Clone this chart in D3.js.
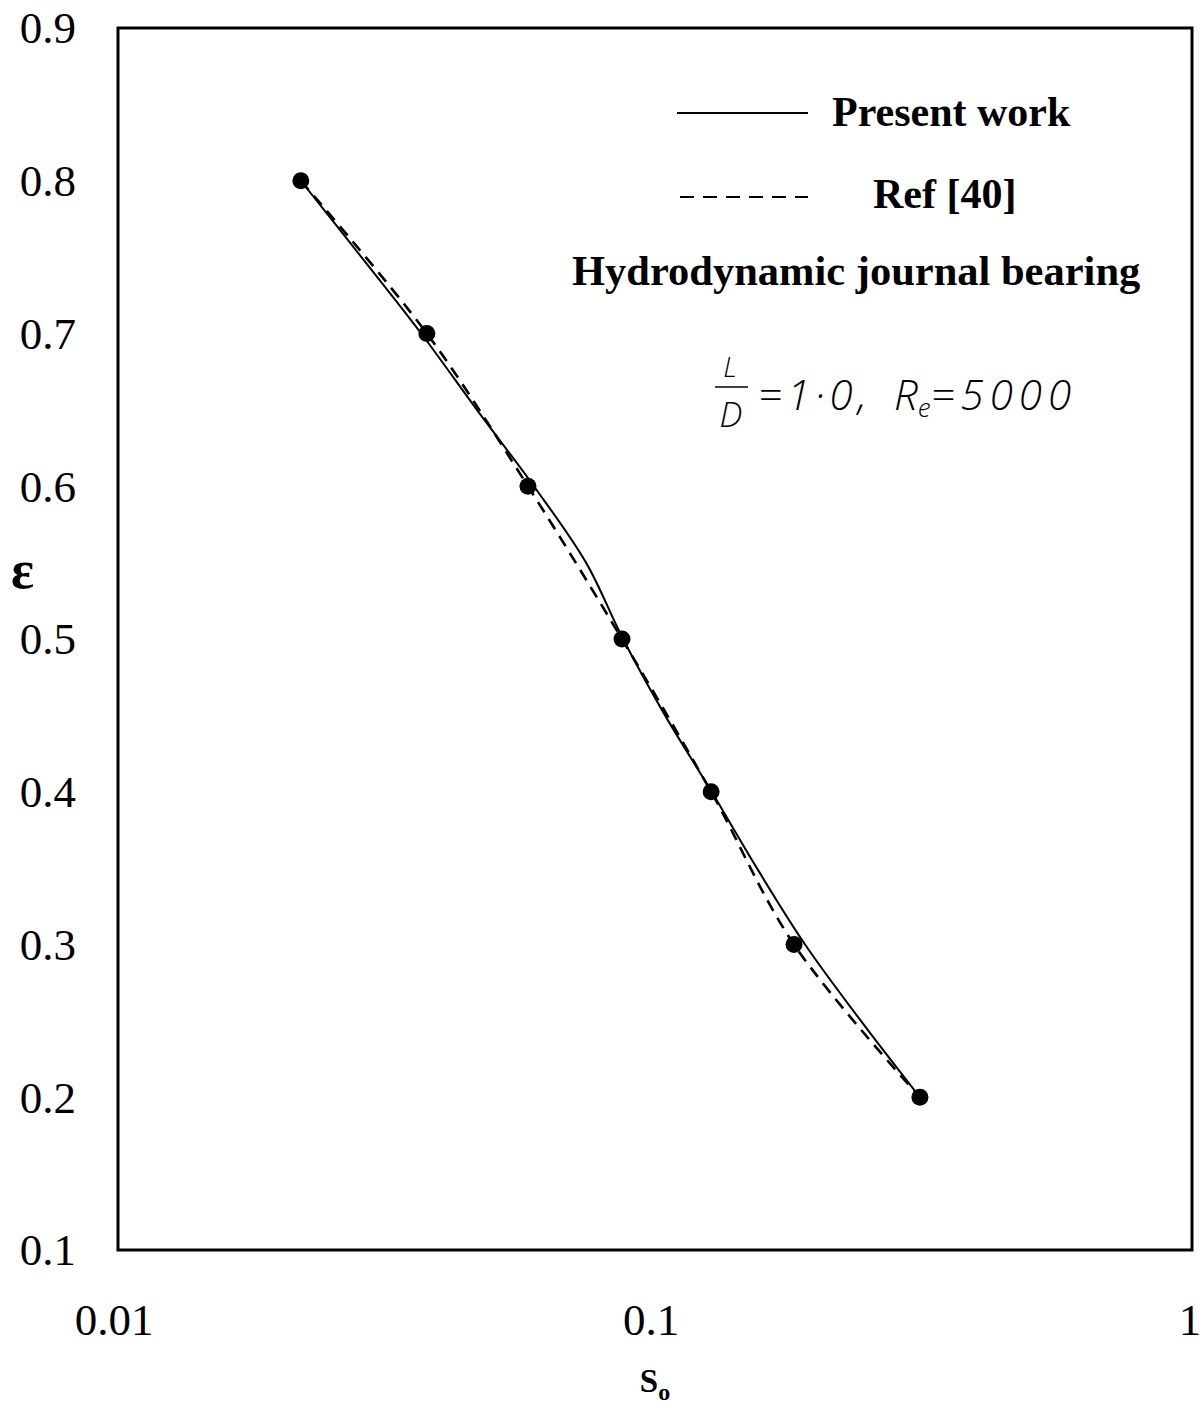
<!DOCTYPE html>
<html>
<head>
<meta charset="utf-8">
<script src="https://cdn.jsdelivr.net/npm/d3@7"></script>
<style>
  html, body { margin: 0; padding: 0; background: #fff; }
  svg { display: block; }
</style>
</head>
<body>
<script>
// Eccentricity ratio vs. Sommerfeld number, hydrodynamic journal bearing (L/D = 1.0, Re = 5000)
const refS   = [0.0219, 0.0376, 0.0580, 0.0868, 0.1272, 0.1815, 0.3114];
const refEps = [0.8, 0.7, 0.6, 0.5, 0.4, 0.3, 0.2];

const presentS   = [0.0219, 0.0284, 0.0367, 0.0466, 0.0595, 0.0744, 0.0872, 0.1044, 0.1275, 0.1548, 0.1903, 0.2418, 0.3114];
const presentEps = [0.8, 0.75, 0.7, 0.65, 0.6, 0.55, 0.5, 0.45, 0.4, 0.35, 0.3, 0.25, 0.2];

const xTicks = [0.01, 0.1, 1];
const xTickLabels = ["0.01", "0.1", "1"];
const yTicks = [0.1, 0.2, 0.3, 0.4, 0.5, 0.6, 0.7, 0.8, 0.9];

const W = 1200, H = 1410;
const plot = { left: 118, right: 1192, top: 28, bottom: 1250 };

const svg = d3.select("body").append("svg")
  .attr("width", W).attr("height", H);

const x = d3.scaleLog().domain([0.01, 1]).range([plot.left, plot.right]);
const y = d3.scaleLinear().domain([0.1, 0.9]).range([plot.bottom, plot.top]);

const serif = "'Liberation Serif', 'Times New Roman', serif";

// Y tick labels
svg.append("g").selectAll("text").data(yTicks).join("text")
  .attr("x", 76).attr("y", d => y(d))
  .attr("dy", "0.34em")
  .attr("text-anchor", "end")
  .attr("font-family", serif).attr("font-size", 45)
  .text(d => d.toFixed(1));

// X tick labels
svg.append("g").selectAll("text").data(xTicks).join("text")
  .attr("x", (d, i) => x(d) - (i === 2 ? 2 : 4)).attr("y", 1335)
  .attr("text-anchor", "middle")
  .attr("font-family", serif).attr("font-size", 45)
  .text((d, i) => xTickLabels[i]);

// Axis titles
const xt = svg.append("text")
  .attr("x", 655).attr("y", 1392)
  .attr("text-anchor", "middle")
  .attr("font-family", serif).attr("font-weight", "bold").attr("font-size", 33);
xt.append("tspan").text("S");
xt.append("tspan").attr("font-size", 24).attr("dy", 8).text("o");

svg.append("text")
  .attr("x", 11).attr("y", 588)
  .attr("font-family", serif).attr("font-weight", "bold").attr("font-size", 54)
  .text("ε");

// Curves
const presentData = presentS.map((s, i) => [s, presentEps[i]]);
const refData = refS.map((s, i) => [s, refEps[i]]);

const line = d3.line()
  .x(d => x(d[0])).y(d => y(d[1]))
  .curve(d3.curveCatmullRom.alpha(0.5));

svg.append("path").datum(refData)
  .attr("d", line)
  .attr("fill", "none").attr("stroke", "#000")
  .attr("stroke-width", 2.6).attr("stroke-dasharray", "12,8");

svg.append("path").datum(presentData)
  .attr("d", line)
  .attr("fill", "none").attr("stroke", "#000")
  .attr("stroke-width", 2);

svg.append("g").selectAll("circle").data(refData).join("circle")
  .attr("cx", d => x(d[0])).attr("cy", d => y(d[1]))
  .attr("r", 8.5).attr("fill", "#000");

// Plot frame
svg.append("rect")
  .attr("x", plot.left).attr("y", plot.top)
  .attr("width", plot.right - plot.left).attr("height", plot.bottom - plot.top)
  .attr("fill", "none").attr("stroke", "#000").attr("stroke-width", 3);

// Legend
svg.append("line")
  .attr("x1", 677).attr("x2", 808).attr("y1", 113).attr("y2", 113)
  .attr("stroke", "#000").attr("stroke-width", 2);
svg.append("text")
  .attr("x", 832).attr("y", 126)
  .attr("font-family", serif).attr("font-weight", "bold").attr("font-size", 42)
  .text("Present work");

svg.append("line")
  .attr("x1", 680).attr("x2", 808).attr("y1", 197).attr("y2", 197)
  .attr("stroke", "#000").attr("stroke-width", 2).attr("stroke-dasharray", "14,9");
svg.append("text")
  .attr("x", 873).attr("y", 208)
  .attr("font-family", serif).attr("font-weight", "bold").attr("font-size", 42)
  .text("Ref [40]");

svg.append("text")
  .attr("x", 572).attr("y", 285)
  .attr("font-family", serif).attr("font-weight", "bold").attr("font-size", 42.5)
  .text("Hydrodynamic journal bearing");

// Parameter annotation
const hand = "'Open Sans', 'DejaVu Sans', sans-serif";
const handText = (xPos, yPos, size, spacing, anchor) => svg.append("text")
  .attr("x", xPos).attr("y", yPos)
  .attr("text-anchor", anchor || "start")
  .attr("font-family", hand).attr("font-style", "italic").attr("font-weight", 300)
  .attr("font-size", size).attr("letter-spacing", spacing);

handText(730, 377, 28, 0, "middle").text("L");
svg.append("line")
  .attr("x1", 715).attr("x2", 748).attr("y1", 387).attr("y2", 387)
  .attr("stroke", "#000").attr("stroke-width", 1.6);
handText(731, 427, 34, 0, "middle").text("D");
handText(758, 410, 42, 5).text("=1·0,");
const re = handText(894, 410, 42, 0);
re.append("tspan").text("R");
re.append("tspan").attr("font-size", 26).attr("dy", 7).text("e");
re.append("tspan").attr("dy", -7).attr("letter-spacing", 6).text("=5000");
</script>
</body>
</html>
